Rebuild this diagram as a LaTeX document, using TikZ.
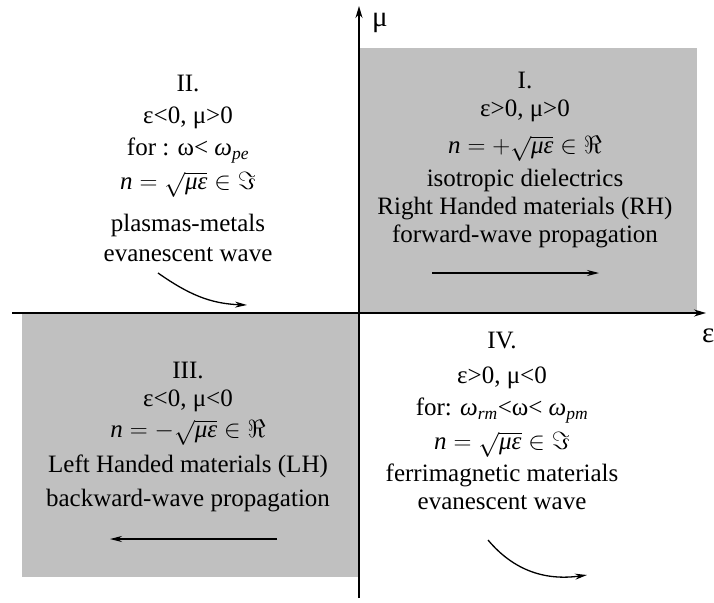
\documentclass[tikz,border=0pt]{standalone}
\usepackage{amsmath,amssymb}
\usepackage{fontspec}
\setmainfont{Liberation Serif}
\usetikzlibrary{arrows.meta}
\definecolor{quadgray}{RGB}{192,192,192}
\newcommand{\itvar}[1]{\text{\itshape #1}}

\begin{document}
\begin{tikzpicture}[x=1pt, y=-1pt,
  quad/.style={fill=quadgray},
  txt/.style={align=center, anchor=north, inner sep=0pt, font=\fontsize{25}{28}\selectfont},
  lbl/.style={anchor=base west, inner sep=0pt, font=\fontsize{29}{32}\selectfont},
  axis/.style={-{Stealth[length=12pt,width=7pt]}, line width=1.5pt},
  arr/.style={-{Stealth[length=12pt,width=6pt]}, line width=1.3pt}
]
\useasboundingbox (0,0) rectangle (714,602);

% shaded quadrants I and III
\fill[quad] (359,48) rectangle (697,313);
\fill[quad] (22,313) rectangle (359,577);

% axes
\coordinate (xstart) at (12,313);
\coordinate (xend) at (706,313);
\coordinate (ystart) at (359,598);
\coordinate (yend) at (359,6);
\draw[axis] (xstart) -- (xend);
\draw[axis] (ystart) -- (yend);
\node[lbl] (mulabel) at (372,27) {μ};
\node[lbl] (epslabel) at (702,342) {ε};

% quadrant texts
\node[txt] (quadI) at (525,72) {I.\\ ε>0, μ>0\\[9pt]
  $\itvar{n}=+\sqrt{\itvar{με}}\in\Re$\\[5pt]
  isotropic dielectrics\\ Right Handed materials (RH)\\ forward-wave propagation};
\node[txt] (quadII) at (188,75) {II.\\[4pt] ε<0, μ>0\\[4pt]
  for : ω< \itvar{ω}$_{\itvar{pe}}$\\[6pt]
  $\itvar{n}=\sqrt{\itvar{με}}\in\Im$\\[14pt]
  plasmas-metals\\[2pt] evanescent wave};
\node[txt] (quadIII) at (188,362) {III.\\ ε<0, μ<0\\[3pt]
  $\itvar{n}=-\sqrt{\itvar{με}}\in\Re$\\[7pt]
  Left Handed materials (LH)\\[6pt] backward-wave propagation};
\node[txt] (quadIV) at (502,332) {IV.\\[7pt] ε>0, μ<0\\[4pt]
  for: \itvar{ω}$_{\itvar{rm}}$<ω< \itvar{ω}$_{\itvar{pm}}$\\[6pt]
  $\itvar{n}=\sqrt{\itvar{με}}\in\Im$\\[4pt]
  ferrimagnetic materials\\ evanescent wave};

% propagation arrows
\coordinate (fwdA) at (432,273);
\coordinate (fwdB) at (599,273);
\coordinate (bwdA) at (277,539);
\coordinate (bwdB) at (110,539);
\coordinate (evaA) at (158,273);
\coordinate (evaB) at (247,305);
\coordinate (evbA) at (488,540);
\coordinate (evbB) at (587,575);
\draw[arr] (fwdA) -- (fwdB);
\draw[arr] (bwdA) -- (bwdB);
\draw[arr] (evaA) to[out=-35, in=178] (evaB);
\draw[arr] (evbA) to[out=-50, in=188] (evbB);
\end{tikzpicture}
\end{document}
